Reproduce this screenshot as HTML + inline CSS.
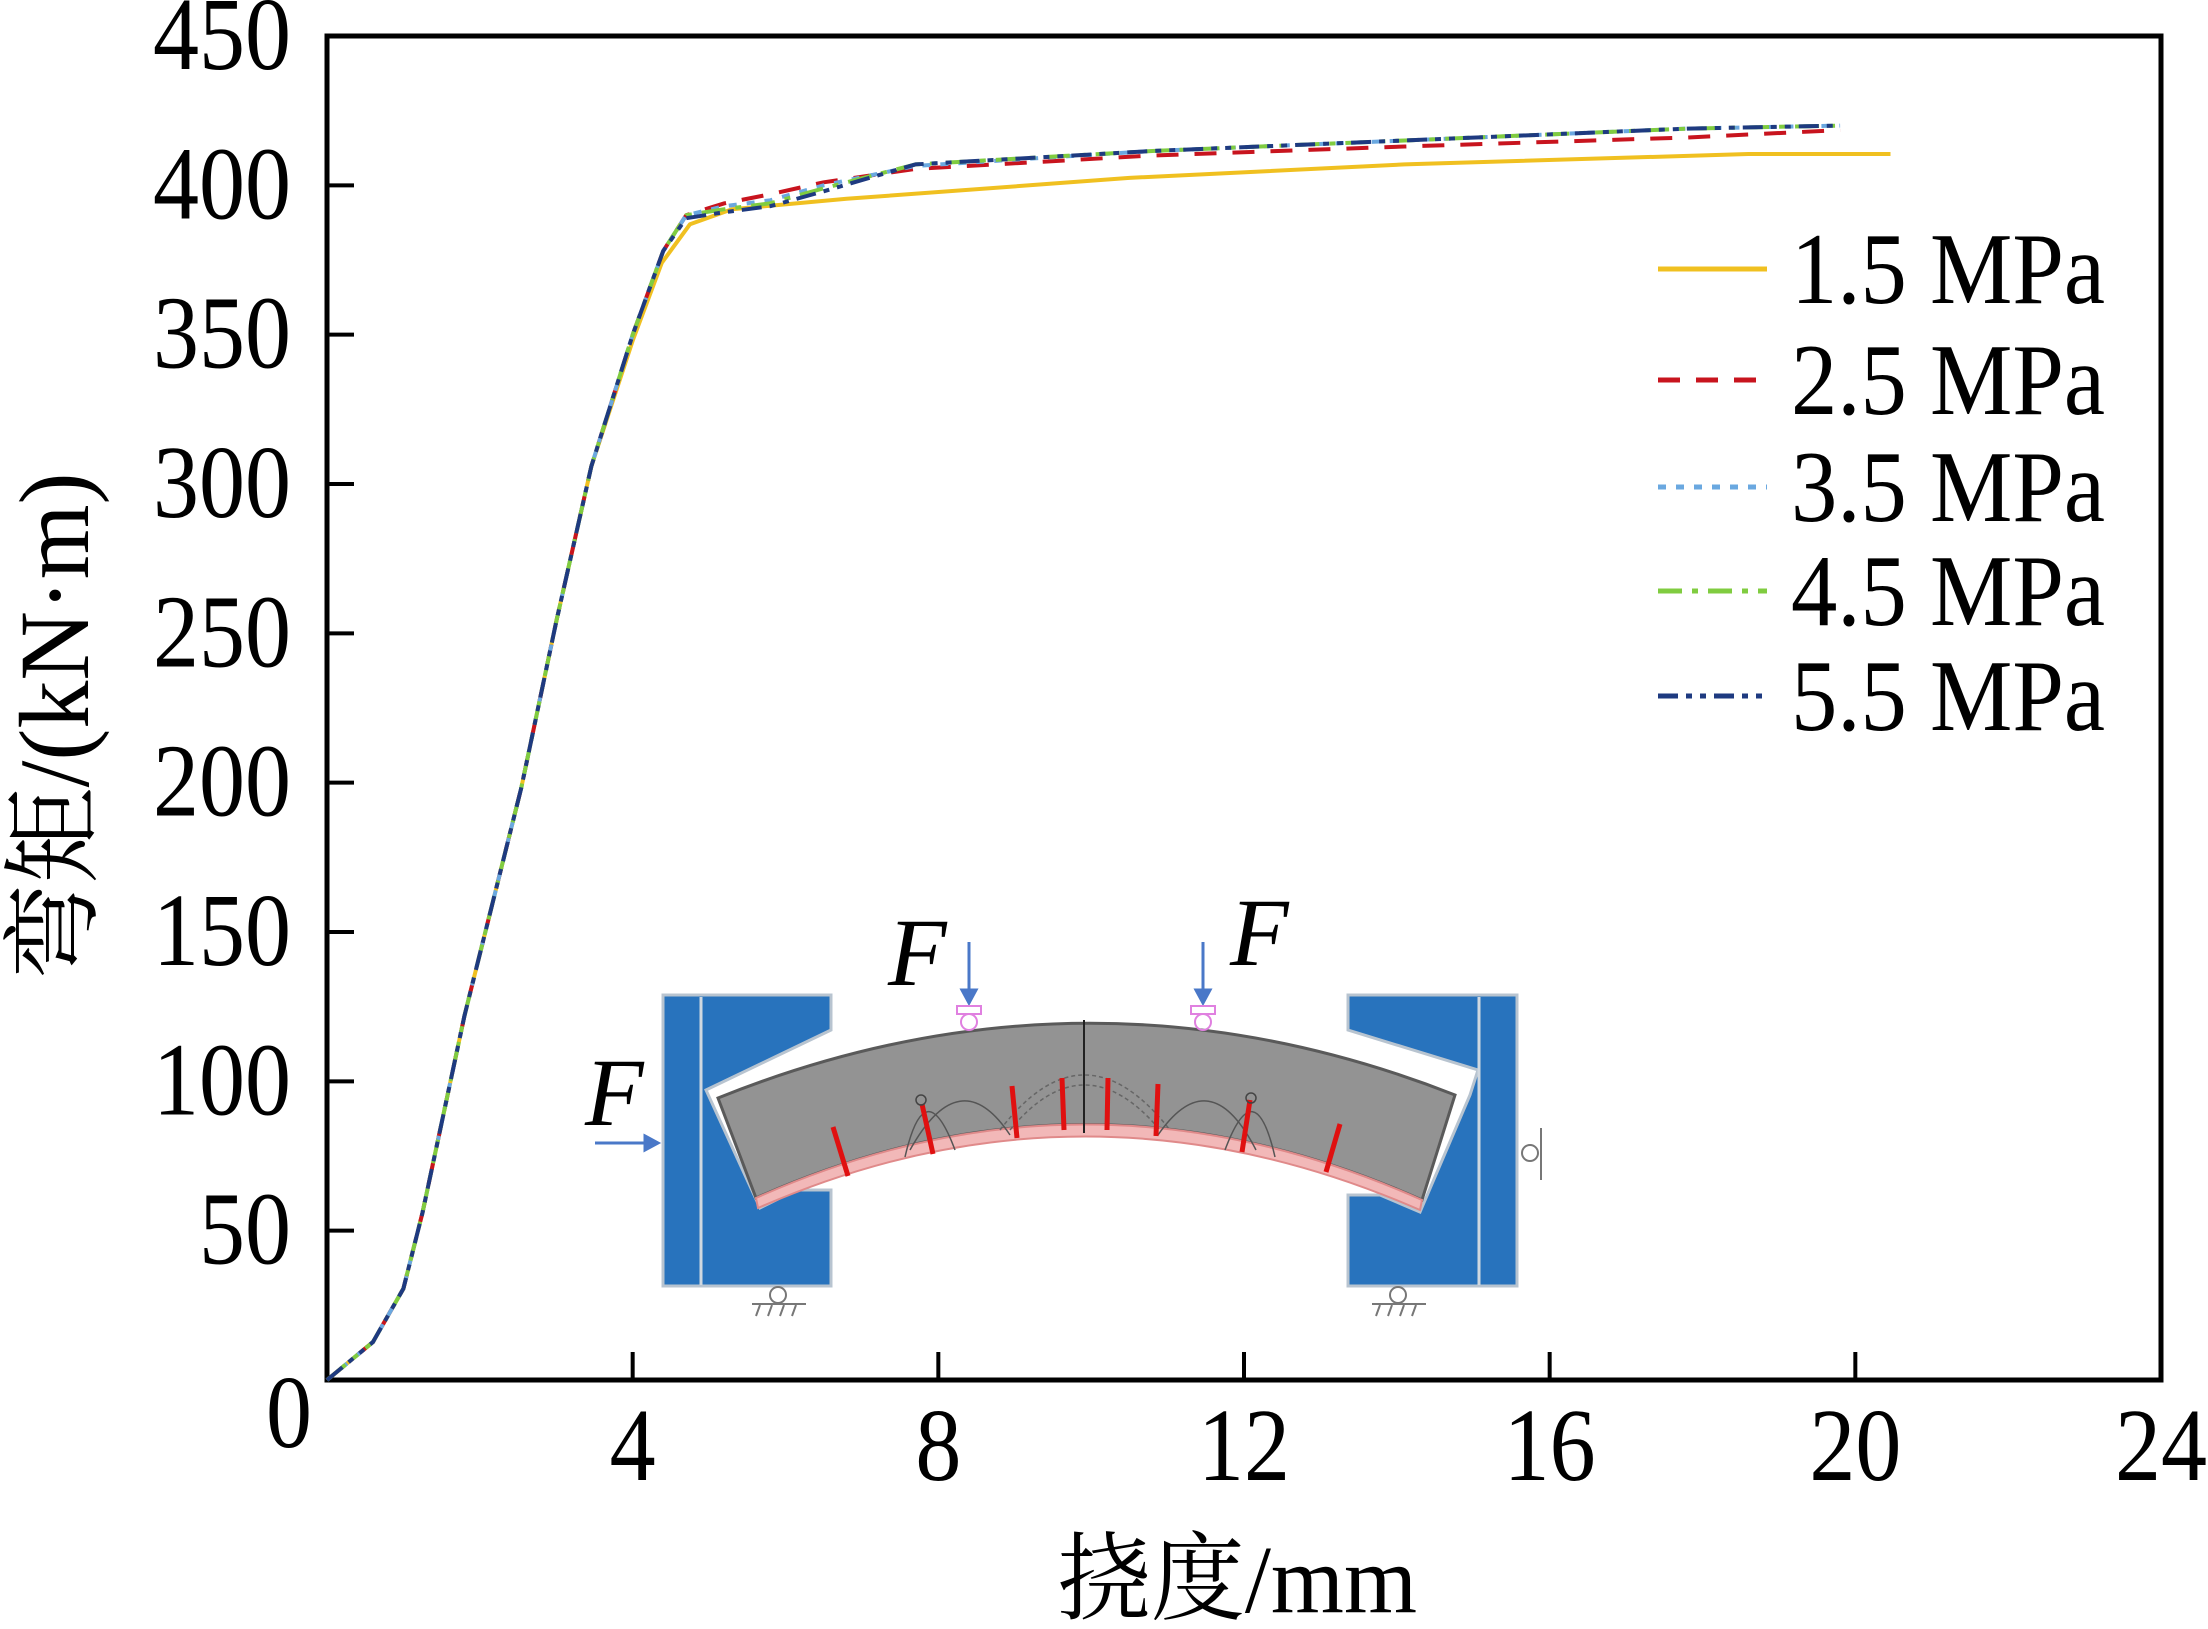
<!DOCTYPE html>
<html><head><meta charset="utf-8"><style>
html,body{margin:0;padding:0;background:#fff}
svg{display:block}
text{font-family:"Liberation Serif","Noto Serif CJK SC",serif;fill:#000}
</style></head><body>
<svg id="chart" width="2208" height="1629" viewBox="0 0 2208 1629" xmlns="http://www.w3.org/2000/svg">
<g id="inset">
  <path d="M663,995 L831,995 L831,1030 L706,1090 L760,1208 L796,1190 L831,1190 L831,1286 L663,1286 Z" fill="#2873bd" stroke="#b8c4d0" stroke-width="3"/>
  <line x1="701" y1="997" x2="701" y2="1285" stroke="#d0d8e0" stroke-width="3"/>
  <path d="M1348,995 L1517,995 L1517,1286 L1348,1286 L1348,1195 L1380,1195 L1420,1212 L1470,1095 L1478,1070 L1348,1030 Z" fill="#2873bd" stroke="#b8c4d0" stroke-width="3"/>
  <line x1="1479" y1="997" x2="1479" y2="1285" stroke="#d0d8e0" stroke-width="3"/>
  <path d="M718,1098 Q1086,950 1455,1095 L1422,1200 Q1086,1050 756,1198 Z" fill="#939393" stroke="#5a5a5a" stroke-width="3"/>
  <path d="M756,1198 Q1086,1050 1422,1200 L1420,1210 Q1086,1064 758,1208 Z" fill="#f2b8b8" stroke="#e08a8a" stroke-width="2"/>
  <line x1="1084" y1="1020" x2="1084" y2="1133" stroke="#222" stroke-width="2"/>
  <path d="M1010,1130 Q1084,1040 1160,1130" fill="none" stroke="#666" stroke-width="1.5" stroke-dasharray="4,3"/>
  <path d="M1000,1130 Q1084,1020 1170,1130" fill="none" stroke="#666" stroke-width="1.5" stroke-dasharray="4,3"/>
  <path d="M910,1150 Q960,1060 1010,1135" fill="none" stroke="#555" stroke-width="1.5"/>
  <path d="M1158,1135 Q1210,1060 1256,1150" fill="none" stroke="#555" stroke-width="1.5"/>
  <path d="M905,1157 Q925,1070 955,1150" fill="none" stroke="#555" stroke-width="1.5"/>
  <path d="M1225,1150 Q1255,1070 1275,1157" fill="none" stroke="#555" stroke-width="1.5"/>
  <g stroke="#e01010" stroke-width="5">
    <line x1="833" y1="1127" x2="848" y2="1176"/>
    <line x1="922" y1="1104" x2="933" y2="1154"/>
    <line x1="1012" y1="1086" x2="1017" y2="1138"/>
    <line x1="1062" y1="1078" x2="1064" y2="1130"/>
    <line x1="1108" y1="1078" x2="1107" y2="1130"/>
    <line x1="1158" y1="1084" x2="1156" y2="1136"/>
    <line x1="1250" y1="1100" x2="1242" y2="1152"/>
    <line x1="1340" y1="1124" x2="1326" y2="1172"/>
  </g>
  <circle cx="921" cy="1100" r="5" fill="none" stroke="#444" stroke-width="1.5"/>
  <circle cx="1251" cy="1098" r="5" fill="none" stroke="#444" stroke-width="1.5"/>
  <g stroke="#4a78c8" stroke-width="3" fill="#4a78c8">
    <line x1="969" y1="942" x2="969" y2="995"/><path d="M962,990 L969,1003 L976,990 Z"/>
    <line x1="1203" y1="942" x2="1203" y2="995"/><path d="M1196,990 L1203,1003 L1210,990 Z"/>
    <line x1="595" y1="1143" x2="648" y2="1143"/><path d="M645,1136 L658,1143 L645,1150 Z"/>
  </g>
  <g stroke="#e080e0" stroke-width="2" fill="none">
    <rect x="957" y="1006" width="24" height="8"/><circle cx="969" cy="1022" r="8"/>
    <rect x="1191" y="1006" width="24" height="8"/><circle cx="1203" cy="1022" r="8"/>
  </g>
  <g stroke="#777" stroke-width="2" fill="none">
    <circle cx="778" cy="1295" r="8"/><line x1="752" y1="1304" x2="806" y2="1304"/>
    <line x1="760" y1="1305" x2="756" y2="1316"/><line x1="772" y1="1305" x2="768" y2="1316"/><line x1="784" y1="1305" x2="780" y2="1316"/><line x1="796" y1="1305" x2="792" y2="1316"/>
    <circle cx="1398" cy="1295" r="8"/><line x1="1372" y1="1304" x2="1426" y2="1304"/>
    <line x1="1380" y1="1305" x2="1376" y2="1316"/><line x1="1392" y1="1305" x2="1388" y2="1316"/><line x1="1404" y1="1305" x2="1400" y2="1316"/><line x1="1416" y1="1305" x2="1412" y2="1316"/>
    <circle cx="1530" cy="1153" r="8"/><line x1="1541" y1="1128" x2="1541" y2="1180"/>
  </g>
  <text x="585" y="1125" font-size="96" font-style="italic">F</text>
  <text x="888" y="985" font-size="96" font-style="italic">F</text>
  <text x="1230" y="965" font-size="96" font-style="italic">F</text>
</g>
<g id="plot"></g>
</svg>
<script>
const xTicks=[0,4,8,12,16,20,24];
const yTicks=[0,50,100,150,200,250,300,350,400,450];
const seriesNames=["1.5 MPa","2.5 MPa","3.5 MPa","4.5 MPa","5.5 MPa"];
const x15=[0,0.6,1.0,1.25,1.8,2.54,3.0,3.46,4.0,4.38,4.75,5.3,6.8,10.5,14.1,18.6,20.46];
const y15=[0,12.7,30.6,56,122,198,254,306,348,374,387,392,395.5,402.5,407,410.5,410.5];
const x25=[0,0.6,1.0,1.25,1.8,2.54,3.0,3.46,4.0,4.4,4.7,5.2,5.8,6.5,7.7,10.8,14.1,17.8,19.8];
const y25=[0,12.7,30.6,56,122,198,254,306,350,378,390,394,397,401,405.5,410,413,416,418.5];
const x35=[0,0.6,1.0,1.25,1.8,2.54,3.0,3.46,4.0,4.4,4.7,5.2,5.8,6.5,7.7,10.8,14.1,17.8,19.8];
const y35=[0,12.7,30.6,56,122,198,254,306,350,378,390,393,395,400,406.5,411.5,415,419,420];
const x45=[0,0.6,1.0,1.25,1.8,2.54,3.0,3.46,4.0,4.4,4.7,5.2,5.8,6.5,7.7,10.8,14.1,17.8,19.8];
const y45=[0,12.7,30.6,56,122,198,254,306,350,378,390,392,394,399,407,411.5,415,419,420];
const x55=[0,0.6,1.0,1.25,1.8,2.54,3.0,3.46,4.0,4.4,4.7,5.2,5.8,6.5,7.7,10.8,14.1,17.8,19.8];
const y55=[0,12.7,30.6,56,122,198,254,306,350,378,389,391,393,398,407,411.5,415,419,420];

const NS="http://www.w3.org/2000/svg";
const L=327,R=2161,T=36,B=1380;
const sx=v=>L+(v-0)/(24-0)*(R-L);
const sy=v=>B-(v-0)/(450-0)*(B-T);
const g=document.getElementById('plot');
function mk(tag,attrs){const e=document.createElementNS(NS,tag);for(const k in attrs)e.setAttribute(k,attrs[k]);g.appendChild(e);return e;}

const frame=mk('rect',{x:L,y:T,width:R-L,height:B-T,fill:'none',stroke:'#000','stroke-width':5});



xTicks.forEach((t,i)=>{
  if(t>0&&t<24){const tk=mk('line',{x1:sx(t),x2:sx(t),y1:B,y2:B-28,stroke:'#000','stroke-width':4});
  
  }
  if(t===0)return;
  const s=String(t);
  const tx=mk('text',{x:sx(t),y:1480,'font-size':104,'text-anchor':'middle',textLength:s.length*46,lengthAdjust:'spacingAndGlyphs'});
  tx.textContent=s;
  
  
});
const z=mk('text',{x:289,y:1447,'font-size':104,'text-anchor':'middle',textLength:46,lengthAdjust:'spacingAndGlyphs'});z.textContent='0';


yTicks.forEach(t=>{
  if(t===0)return;
  if(t<450){const tk=mk('line',{x1:L,x2:L+27,y1:sy(t),y2:sy(t),stroke:'#000','stroke-width':4});
  
  }
  const s=String(t);
  const tx=mk('text',{x:291,y:sy(t)+33,'font-size':104,'text-anchor':'end',textLength:s.length*46,lengthAdjust:'spacingAndGlyphs'});
  tx.textContent=s;
  
  
});
const xt=mk('text',{x:1057,y:1612,'font-size':96,textLength:360,lengthAdjust:'spacingAndGlyphs'});
xt.textContent='挠度/mm';


const yt=mk('text',{x:0,y:0,'font-size':100,'text-anchor':'middle',textLength:507,lengthAdjust:'spacingAndGlyphs',transform:'translate(88,726) rotate(-90)'});
yt.textContent='弯矩/(kN·m)';



const styles=[
 {c:'#f0c020',d:'',w:4},
 {c:'#c8141e',d:'22,16',w:4},
 {c:'#6aa8e0',d:'8,10',w:4},
 {c:'#80cc40',d:'24,10,6,10',w:4},
 {c:'#1e3a80',d:'20,8,6,8,6,8',w:4}];
const xs=[x15,x25,x35,x45,x55], ys=[y15,y25,y35,y45,y55];
xs.forEach((xa,i)=>{
  const d=xa.map((v,j)=>(j?'L':'M')+sx(v).toFixed(1)+','+sy(ys[i][j]).toFixed(1)).join(' ');
  const p=mk('path',{d:d,fill:'none',stroke:styles[i].c,'stroke-width':styles[i].w,'stroke-dasharray':styles[i].d,'stroke-linejoin':'round'});
  
  
});
const legY=[269,380,487,591,696];
seriesNames.forEach((n,i)=>{
  const ln=mk('line',{x1:1658,x2:1767,y1:legY[i],y2:legY[i],stroke:styles[i].c,'stroke-width':5,'stroke-dasharray':styles[i].d});
  
  
  const tx=mk('text',{x:1791,y:legY[i]+34,'font-size':102,textLength:314,lengthAdjust:'spacingAndGlyphs'});
  tx.textContent=n;
  
  
});
</script>
</body></html>
